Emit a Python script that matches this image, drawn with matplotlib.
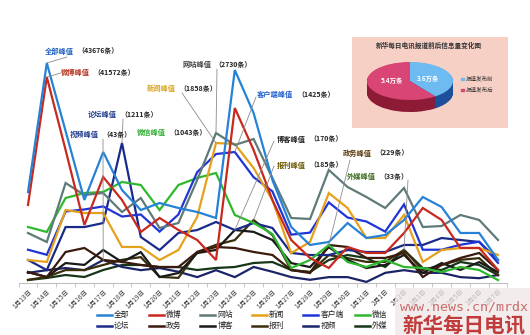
import numpy as np
import matplotlib
matplotlib.use('Agg')
import matplotlib.pyplot as plt
from matplotlib.patches import Wedge, Rectangle
from matplotlib.lines import Line2D

plt.rcParams['font.family'] = ['Noto Sans CJK SC', 'DejaVu Sans']

# daily counts per channel (条)
dates = ['1月%d日' % d for d in range(13, 32)] + ['2月%d日' % d for d in range(1, 8)]

quanbu = [18060, 43676, 30170, 16480, 26000, 18460, 14490, 15880, 14890, 14100, 12900, 42280, 33750,
          20450, 11120, 7550, 8140, 11910, 8940, 9530, 12510, 17070, 15090, 9930, 9930, 4570]
weibo = [15740, 41572, 26840, 11710, 21390, 16750, 10290, 13120, 10700, 8680, 4640, 35320, 26840,
         16750, 8680, 5050, 3030, 7270, 6060, 6060, 10090, 15140, 12720, 7070, 7070, 2630]
wangzhan = [910, 746, 1820, 1602, 1638, 1292, 1547, 1001, 1092, 1875, 2730, 2512, 2621,
            1911, 1183, 1165, 2057, 1747, 1565, 1365, 1729, 1019, 1037, 1238, 1147, 783]
xinwen = [305, 279, 969, 929, 929, 478, 478, 305, 438, 876, 1858, 1845, 1526,
          1101, 398, 544, 1194, 995, 597, 597, 902, 279, 438, 464, 464, 372]
kehuduan = [362, 307, 778, 800, 833, 723, 745, 559, 745, 1206, 1403, 1425, 1151,
            997, 526, 548, 877, 712, 669, 559, 855, 362, 362, 416, 449, 219]
weixin = [531, 484, 806, 853, 863, 958, 929, 692, 929, 996, 1043, 645, 569,
          465, 142, 218, 360, 199, 152, 218, 152, 142, 104, 152, 123, 28]
luntan = [199, 112, 484, 484, 519, 1211, 398, 285, 433, 458, 528, 458, 519,
          476, 260, 242, 242, 285, 268, 268, 329, 329, 389, 372, 355, 199]
zhengwu = [66, 36, 187, 211, 139, 127, 109, 96, 96, 187, 217, 211, 187,
           169, 78, 60, 229, 217, 151, 151, 181, 36, 109, 151, 181, 78]
boke = [35, 19, 64, 58, 106, 67, 99, 19, 32, 96, 106, 170, 164,
        138, 64, 51, 115, 74, 48, 58, 90, 32, 64, 42, 67, 35]
baokan = [9, 18, 38, 38, 53, 68, 76, 18, 15, 91, 112, 126, 185,
          141, 38, 32, 82, 73, 62, 62, 97, 38, 53, 68, 73, 23]
shipin = [19, 24, 28, 24, 43, 30, 24, 28, 21, 11, 24, 11, 30,
          21, 11, 6, 11, 11, 2, 19, 24, 19, 19, 11, 9, 15]
waimei = [3, 5, 8, 6, 13, 18, 18, 16, 16, 13, 15, 16, 20,
          21, 13, 11, 23, 28, 25, 16, 33, 15, 13, 21, 18, 8]

# pie: total items before / after the report (万条)
pie_labels = ['报道发布前', '报道发布后']
pie_values = [3.6, 5.4]

W, H = 530, 335

# name, data, colour, height of the series peak on the shared axis,
# label colour, label pos (px), leader start (px)
series = [
    ('全部', quanbu, '#2682d6', 220, '#1f5fbf', (45, 51), (67, 57)),
    ('微博', weibo, '#c8281e', 206, '#b5321e', (61, 72), (61, 73)),
    ('网站', wangzhan, '#5f7b79', 150, '#444444', (182, 64), (217, 69)),
    ('新闻', xinwen, '#e5a11c', 140, '#d9a520', (147, 88), (182, 93)),
    ('客户端', kehuduan, '#1f35d6', 131, '#1f5fd0', (257, 94), (256, 97)),
    ('微信', weixin, '#2eb82e', 110, '#2fae2f', (137, 132), None),
    ('论坛', luntan, '#1a2a8a', 140, '#1f3a8c', (88, 114), (123, 119)),
    ('政务', zhengwu, '#3b1a0e', 38, '#5c3a0a', (343, 153), (350, 160)),
    ('博客', boke, '#1a1a1a', 53, '#222222', (277, 139), (274, 141)),
    ('报刊', baokan, '#3a2e0a', 63, '#6b5a00', (277, 165), (274, 166)),
    ('视频', shipin, '#1b2466', 23, '#1f3a8c', (70, 134), (103, 139)),
    ('外媒', waimei, '#16361a', 33, '#3a6a1a', (347, 176), (408, 180)),
]

fig = plt.figure(figsize=(W / 100, H / 100), dpi=100)
ax = fig.add_axes([18.6 / W, (H - 283) / H, 488.8 / W, 228 / H])
x = np.arange(len(dates))

for name, vals, col, peak_h, *_ in reversed(series):
    v = np.array(vals, dtype=float)
    ax.plot(x, v / v.max() * peak_h, color=col, lw=1.6, solid_joinstyle='miter')

ax.set_xlim(-0.5, len(dates) - 0.5)
ax.set_ylim(0, 228)
ax.set_yticks([])
for s in ['top', 'right', 'left']:
    ax.spines[s].set_visible(False)
ax.spines['bottom'].set_color('#bfbfbf')
ax.spines['bottom'].set_linewidth(0.8)
ax.set_xticks(x)
ax.set_xticklabels(dates, rotation=45, ha='right', rotation_mode='anchor',
                   fontsize=4.8, color='#404040')
ax.tick_params(axis='x', length=0, pad=3)
ax.set_xticks(np.arange(-0.5, len(dates)), minor=True)
ax.tick_params(axis='x', which='minor', length=3, color='#bfbfbf', width=0.6)


def fpx(px, py):
    return px, H - py


# peak labels with leader lines
for name, vals, col, peak_h, lcol, lpos, lead in series:
    i = int(np.argmax(vals))
    if lead is not None:
        ax.annotate('', xy=(i, peak_h), xycoords='data',
                    xytext=fpx(*lead), textcoords='figure pixels',
                    arrowprops=dict(arrowstyle='-', color='#8c8c8c', lw=0.6,
                                    shrinkA=0, shrinkB=0))
    fig.text(lpos[0] / W, 1 - lpos[1] / H, name + '峰值', color=lcol,
             fontsize=5.2, fontweight='bold', va='center', ha='left')
    nx = lpos[0] + 7.2 * (len(name) + 2) + 4
    fig.text(nx / W, 1 - lpos[1] / H, '（%d条）' % max(vals), color='#222222',
             fontsize=5.0, fontweight='bold', va='center', ha='left')

# legend, 6 columns x 2 rows
legend_rows = [['全部', '微博', '网站', '新闻', '客户端', '微信'],
               ['论坛', '政务', '博客', '报刊', '视频', '外媒']]
colours = {s[0]: s[2] for s in series}
for r, row in enumerate(legend_rows):
    ly = 1 - (315 + 11 * r) / H
    for c, name in enumerate(row):
        x0 = 97 + 51.6 * c
        fig.add_artist(Line2D([x0 / W, (x0 + 15) / W], [ly, ly],
                              color=colours[name], lw=1.8))
        fig.text((x0 + 17) / W, ly, name, fontsize=5.6, color='#222222',
                 va='center', ha='left')

# inset: before / after pie
box = fig.add_axes([352 / W, (H - 128) / H, 156 / W, 91 / H])
box.set_xlim(0, 156)
box.set_ylim(91, 0)
box.set_facecolor('#f7d0c5')
box.set_xticks([])
box.set_yticks([])
for s in box.spines.values():
    s.set_visible(False)
box.text(77, 8, '新华每日电讯报道前后信息量变化图', fontsize=4.8, fontweight='bold',
         color='#333333', ha='center', va='center')

pie_top = ['#6ebbf2', '#d94676']
pie_side = ['#1e4f9a', '#8e1b35']
box.add_patch(Rectangle((109, 40.5), 2.5, 2.5, color=pie_top[0]))
box.add_patch(Rectangle((109, 51.5), 2.5, 2.5, color=pie_top[1]))
box.text(113.5, 42, pie_labels[0], fontsize=4.0, color='#333333', va='center')
box.text(113.5, 53, pie_labels[1], fontsize=4.0, color='#333333', va='center')

pax = fig.add_axes([367 / W, (H - 112) / H, 86 / W, 50 / H])
depth = 2 * 12 / 38
pax.set_xlim(-1, 1)
pax.set_ylim(-1 - depth, 1)
pax.axis('off')
total = sum(pie_values)
span = 360 * pie_values[0] / total
angles = [(90 - span, 90), (90, 90 - span + 360)]
for off in np.linspace(-depth, 0, 24)[:-1]:
    for (a1, a2), sc in zip(angles, pie_side):
        pax.add_patch(Wedge((0, off), 1, a1, a2, color=sc, lw=0))
for (a1, a2), tc in zip(angles, pie_top):
    pax.add_patch(Wedge((0, 0), 1, a1, a2, color=tc, lw=0))
pax.text(0.42, 0.12, '%.1f万条' % pie_values[0], color='white', fontsize=4.6,
         fontweight='bold', ha='center', va='center')
pax.text(-0.42, 0.02, '%.1f万条' % pie_values[1], color='white', fontsize=4.6,
         fontweight='bold', ha='center', va='center')

# site watermark
fig.add_artist(Rectangle((395 / W, 0), 135 / W, 47 / H, transform=fig.transFigure,
                         facecolor='#efe6e6', alpha=0.75, lw=0, zorder=5))
fig.text(464 / W, 1 - 307 / H, 'www.news.cn/mrdx', family='DejaVu Sans Mono',
         fontsize=9.6, color='#c86a6a', ha='center', va='center', zorder=6)
fig.text(464 / W, 1 - 324.5 / H, '新华每日电讯', fontsize=14.8, fontweight='bold',
         color='#c23b3b', ha='center', va='center', zorder=6)

fig.savefig('out.png', dpi=100)
